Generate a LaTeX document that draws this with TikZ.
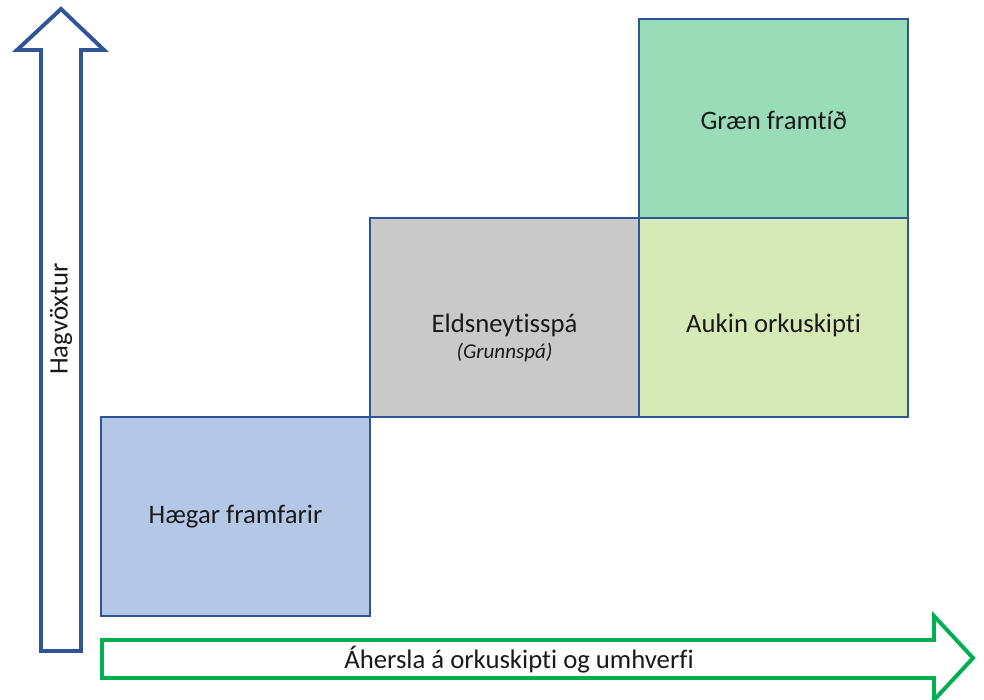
\documentclass[tikz,border=0pt]{standalone}
\usepackage{fontspec}
\setmainfont{Carlito}[Ligatures=NoCommon]
\usetikzlibrary{positioning, calc}
\definecolor{axisblue}{HTML}{2F5597}
\definecolor{axisgreen}{HTML}{00B050}
\definecolor{slowfill}{HTML}{B4C7E7}
\definecolor{basefill}{HTML}{C9C9C9}
\definecolor{shiftfill}{HTML}{D6EAB8}
\definecolor{greenfill}{HTML}{9ADCB7}
\definecolor{ink}{HTML}{1A1A1A}
\tikzset{
  font=\fontsize{19}{22}\selectfont,
  %
  cell/.style={draw=axisblue, line width=1.1pt, inner sep=0pt, outer sep=0pt,
               minimum width=6.725cm, minimum height=4.975cm},
  cellslow/.style={cell, fill=slowfill},
  cellbase/.style={cell, fill=basefill},
  cellshift/.style={cell, fill=shiftfill},
  cellgreen/.style={cell, fill=greenfill},
  %
  axisline/.style={line width=2.8pt, line join=miter, fill=white},
  lbl/.style={text=ink, inner sep=1pt},
  sublbl/.style={lbl, font=\fontsize{15}{18}\selectfont\itshape},
}

\begin{document}
\begin{tikzpicture}[x=0.025cm, y=-0.025cm]

  \useasboundingbox (0,0) rectangle (984,699);

  % axes
  \draw[axisline, draw=axisblue]
    (41,651) -- (41,50) -- (17,50) -- (61,9) -- (104,50) -- (81,50)
    -- (81,651) -- cycle;
  \node[lbl, rotate=90] (growth) at (61,319) {Hagvöxtur};

  \draw[axisline, draw=axisgreen]
    (102,640) -- (934,640) -- (934,616) -- (973,658) -- (934,700)
    -- (934,678) -- (102,678) -- cycle;
  \node[lbl] (focus) at (519,660) {Áhersla á orkuskipti og umhverfi};

  % scenario cells
  \node[cellslow] (slow) at (235.5,516.5) {};
  \node[cellbase, anchor=south west] (base) at (slow.north east) {};
  \node[cellshift, right=0pt of base] (shift) {};
  \node[cellgreen, above=0pt of shift] (green) {};

  \node[lbl] at (slow.center) {Hægar framfarir};
  \node[lbl] at ([yshift=-0.2cm]base.center) {Eldsneytisspá};
  \node[sublbl] at ([yshift=-0.88cm]base.center) {(Grunnspá)};
  \node[lbl] at ([yshift=-0.2cm]shift.center) {Aukin orkuskipti};
  \node[lbl] at ([yshift=-0.05cm]green.center) {Græn framtíð};

\end{tikzpicture}
\end{document}
